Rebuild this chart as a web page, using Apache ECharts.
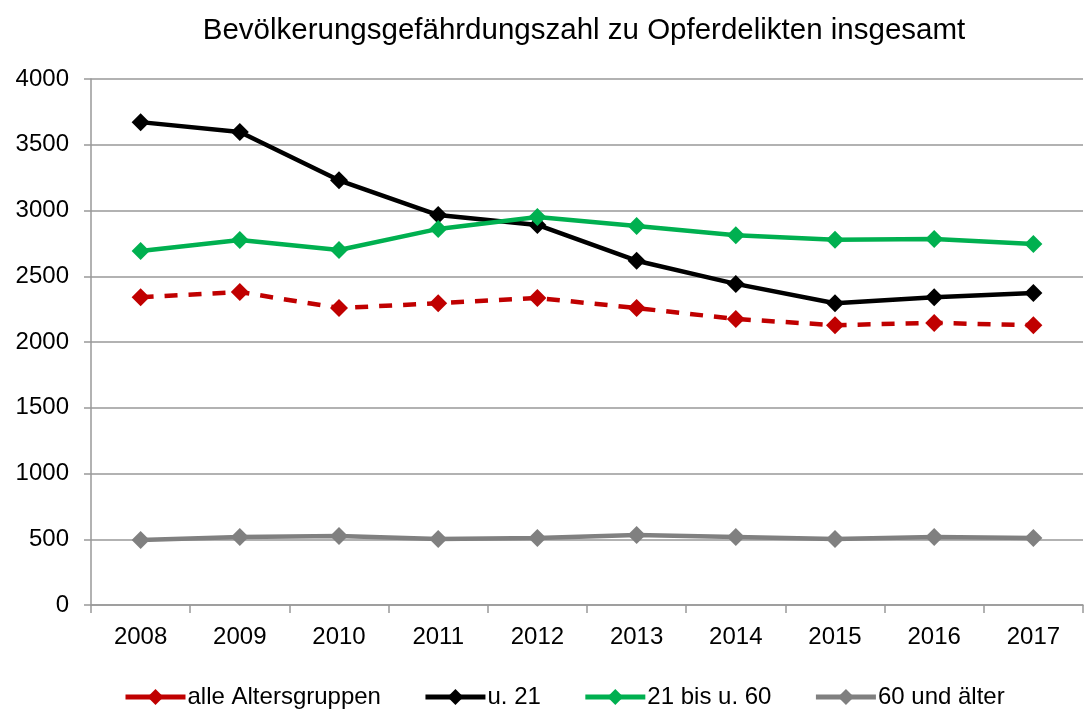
<!DOCTYPE html>
<html>
<head>
<meta charset="utf-8">
<script src="https://cdn.jsdelivr.net/npm/echarts@6/dist/echarts.min.js"></script>
<style>
  html, body { margin: 0; padding: 0; background: #fff; }
  #main { width: 1084px; height: 709px; }
</style>
</head>
<body>
<div id="main"></div>
<script>
// Jahre und Werte
var years = ['2008', '2009', '2010', '2011', '2012', '2013', '2014', '2015', '2016', '2017']
var alleAltersgruppen = [2340, 2380, 2258, 2295, 2335, 2258, 2175, 2128, 2145, 2128]
var unter21 = [3672, 3597, 3230, 2965, 2890, 2618, 2442, 2295, 2340, 2372]
var von21bis60 = [2692, 2776, 2700, 2860, 2950, 2882, 2812, 2778, 2783, 2745]
var ab60 = [494, 517, 525, 502, 510, 532, 517, 502, 517, 510]

var font = 'Liberation Sans, Arial, sans-serif'

var chart = echarts.init(document.getElementById('main'))

function makeSeries (name, data, color, dashed) {
  return {
    name: name,
    type: 'line',
    data: data,
    symbol: 'diamond',
    symbolSize: 18,
    itemStyle: { color: color },
    lineStyle: { color: color, width: 4.5, type: dashed ? [13, 11] : 'solid' },
    animation: false
  }
}

// Legendeneintrag: durchgezogene, dicke Linie mit Raute
function legendItem (name, color) {
  return {
    name: name,
    itemStyle: { color: color },
    lineStyle: { color: color, width: 5, type: 'solid' }
  }
}

var option = {
  backgroundColor: '#fff',
  title: {
    text: 'Bevölkerungsgefährdungszahl zu Opferdelikten insgesamt',
    left: 579,
    textAlign: 'center',
    top: 11,
    textStyle: { fontFamily: font, fontSize: 29.5, fontWeight: 'normal', color: '#000' }
  },
  grid: { left: 91, right: 1, top: 79, bottom: 104, containLabel: false },
  legend: {
    top: 680,
    left: 118,
    itemWidth: 60,
    itemHeight: 20,
    itemGap: 42,
    textStyle: { fontFamily: font, fontSize: 24, color: '#000', padding: [0, 0, 0, -3] },
    data: [
      legendItem('alle Altersgruppen', '#C00000'),
      legendItem('u. 21', '#000000'),
      legendItem('21 bis u. 60', '#00B050'),
      legendItem('60 und älter', '#808080')
    ]
  },
  xAxis: {
    type: 'category',
    data: years,
    boundaryGap: true,
    axisLine: { lineStyle: { color: '#999', width: 1.5 } },
    axisTick: { show: true, inside: false, length: 8, lineStyle: { color: '#999', width: 1.5 } },
    axisLabel: { fontFamily: font, fontSize: 24, color: '#000', margin: 20 }
  },
  yAxis: {
    type: 'value',
    min: 0,
    max: 4000,
    interval: 500,
    axisLine: { show: true, lineStyle: { color: '#999', width: 1.5 } },
    axisTick: { show: true, length: 7, lineStyle: { color: '#999', width: 1.5 } },
    splitLine: { lineStyle: { color: '#999', width: 1.5 } },
    axisLabel: {
      fontFamily: font,
      fontSize: 24,
      color: '#000',
      margin: 22,
      formatter: function (v) { return String(v) }
    }
  },
  series: [
    makeSeries('alle Altersgruppen', alleAltersgruppen, '#C00000', true),
    makeSeries('u. 21', unter21, '#000000', false),
    makeSeries('21 bis u. 60', von21bis60, '#00B050', false),
    makeSeries('60 und älter', ab60, '#808080', false)
  ]
}

chart.setOption(option)
</script>
</body>
</html>
